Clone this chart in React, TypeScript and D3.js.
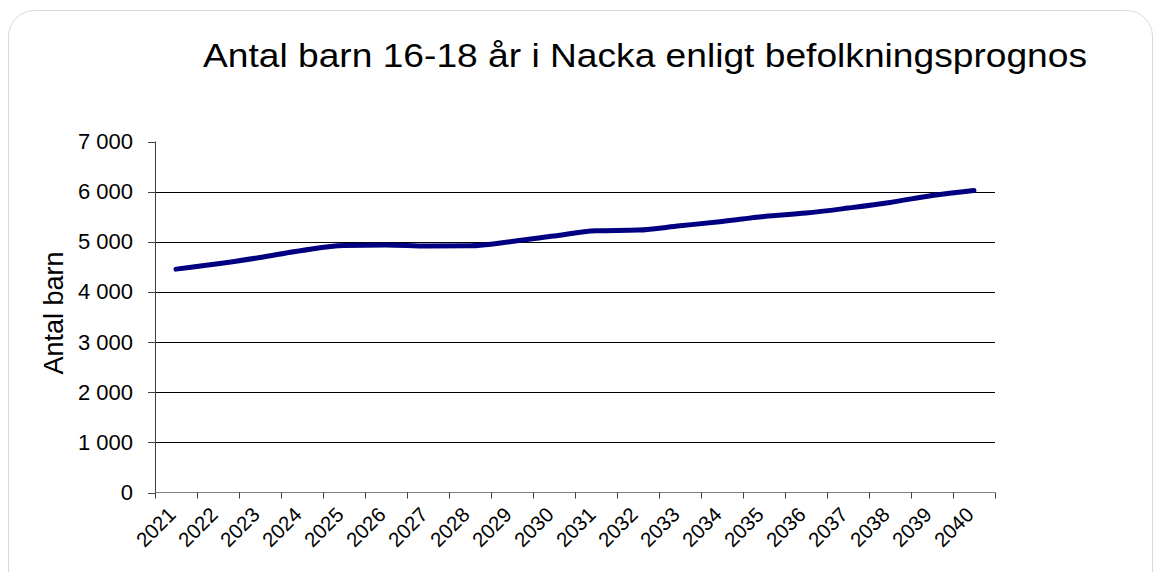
import React from "react";
import * as d3 from "d3";

const years: string[] = ["2021","2022","2023","2024","2025","2026","2027","2028","2029","2030","2031","2032","2033","2034","2035","2036","2037","2038","2039","2040"];
const barn: number[] = [4455,4560,4687,4826,4926,4934,4914,4920,5006,5114,5220,5233,5319,5405,5505,5572,5672,5784,5924,6024];
const yTicks: number[] = [0,1000,2000,3000,4000,5000,6000,7000];

const W = 1155, H = 572;
const left = 155, right = 995, top = 141.5, bottom = 492.5;

const fmt = (v: number) => d3.format(",")(v).replace(/,/g, " ");

export default function App() {
  const x = d3.scaleBand<string>().domain(years).range([left, right]);
  const y = d3.scaleLinear().domain([0, 7000]).range([bottom, top]);
  const line = d3.line<number>()
    .x((_, i) => (x(years[i]) as number) + x.bandwidth() / 2)
    .y(d => y(d))
    .curve(d3.curveMonotoneX);
  const font = "'Liberation Sans', Arial, sans-serif";
  return (
    <svg width={W} height={H} style={{ position: "absolute", left: 0, top: 0 }} fontFamily={font}>
      <rect x={8.5} y={10.5} width={1144} height={600} rx={26} fill="#fff" stroke="#d9d9d9" strokeWidth={1} />
      <text x={203} y={67} textAnchor="start" fontSize={34} textLength={884} lengthAdjust="spacingAndGlyphs" fill="#000">Antal barn 16-18 år i Nacka enligt befolkningsprognos</text>
      {yTicks.filter(t => t > 0 && t < 7000).map(t => (
        <line key={"g" + t} x1={left} x2={right} y1={Math.round(y(t)) + 0.5} y2={Math.round(y(t)) + 0.5} stroke="#000" strokeWidth={1} />
      ))}
      {yTicks.map(t => (
        <g key={"t" + t}>
          <line x1={left - 7} x2={left} y1={Math.round(y(t)) + 0.5} y2={Math.round(y(t)) + 0.5} stroke="#404040" />
          <text x={133} y={y(t) + 7.5} textAnchor="end" fontSize={22} fill="#000">{fmt(t)}</text>
        </g>
      ))}
      <line x1={left + 0.5} x2={left + 0.5} y1={top} y2={bottom} stroke="#404040" />
      <line x1={left} x2={right} y1={bottom} y2={bottom} stroke="#808080" />
      {[...years.map(yr => x(yr) as number), right].map((xx, i) => (
        <line key={"xt" + i} x1={Math.round(xx) + 0.5} x2={Math.round(xx) + 0.5} y1={bottom} y2={bottom + 6} stroke="#404040" />
      ))}
      {years.map(yr => {
        const cx = (x(yr) as number) + x.bandwidth() / 2 + 1;
        const cy = 516;
        return (
          <text key={"xl" + yr} x={cx} y={cy} textAnchor="end" fontSize={20.5} fill="#000" transform={`rotate(-45 ${cx} ${cy})`}>{yr}</text>
        );
      })}
      <text transform={`translate(63 ${(top + bottom) / 2 - 4}) rotate(-90)`} textAnchor="middle" fontSize={27} fill="#000">Antal barn</text>
      <path d={line(barn) || ""} fill="none" stroke="#000080" strokeWidth={5} strokeLinecap="round" strokeLinejoin="round" />
    </svg>
  );
}
